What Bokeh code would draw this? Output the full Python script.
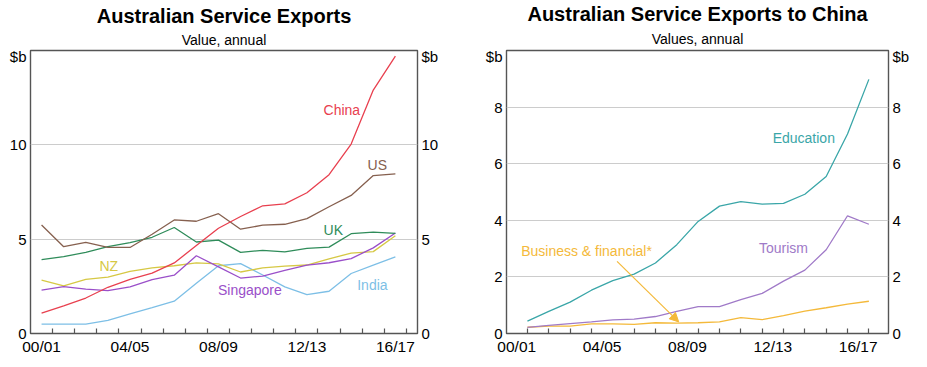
from bokeh.plotting import figure
from bokeh.layouts import row
from bokeh.models import FixedTicker, LinearAxis, Range1d, Label, Arrow, NormalHead, Title
from bokeh.embed import file_html
from bokeh.resources import INLINE

FONT = "Liberation Sans"

# ---------------- data ----------------
years = ["00/01", "01/02", "02/03", "03/04", "04/05", "05/06", "06/07", "07/08", "08/09",
         "09/10", "10/11", "11/12", "12/13", "13/14", "14/15", "15/16", "16/17"]
tick_years = ["00/01", "04/05", "08/09", "12/13", "16/17"]

# Left chart: Australian service exports by destination ($b)
china = [1.08, 1.46, 1.88, 2.45, 2.87, 3.20, 3.74, 4.66, 5.58, 6.20, 6.77, 6.87, 7.46, 8.42, 10.04, 12.90, 14.70]
us = [5.75, 4.60, 4.83, 4.57, 4.56, 5.26, 6.02, 5.95, 6.35, 5.53, 5.74, 5.79, 6.09, 6.72, 7.32, 8.37, 8.46]
uk = [3.92, 4.08, 4.30, 4.60, 4.82, 5.10, 5.62, 4.85, 4.95, 4.30, 4.41, 4.33, 4.51, 4.58, 5.29, 5.37, 5.31]
nz = [2.83, 2.52, 2.87, 2.99, 3.29, 3.48, 3.59, 3.74, 3.69, 3.26, 3.48, 3.57, 3.63, 3.96, 4.26, 4.34, 5.18]
singapore = [2.30, 2.48, 2.35, 2.27, 2.47, 2.86, 3.09, 4.12, 3.53, 2.94, 3.04, 3.35, 3.62, 3.75, 3.97, 4.54, 5.33]
india = [0.50, 0.50, 0.50, 0.70, 1.04, 1.37, 1.71, 2.66, 3.59, 3.70, 3.10, 2.47, 2.06, 2.24, 3.18, 3.62, 4.06]

# Right chart: Australian service exports to China ($b)
education = [0.44, 0.78, 1.11, 1.53, 1.87, 2.10, 2.49, 3.14, 3.96, 4.50, 4.66, 4.57, 4.60, 4.92, 5.55, 7.05, 8.98]
tourism = [0.22, 0.29, 0.35, 0.41, 0.48, 0.51, 0.60, 0.78, 0.95, 0.95, 1.20, 1.42, 1.85, 2.24, 2.96, 4.16, 3.86]
business = [0.22, 0.26, 0.26, 0.34, 0.34, 0.32, 0.38, 0.37, 0.38, 0.41, 0.56, 0.49, 0.63, 0.79, 0.91, 1.04, 1.14]

left_yticks = [0, 5, 10]
right_yticks = [0, 2, 4, 6, 8]

# ---------------- styling ----------------
C_CHINA = "#e8404f"
C_US = "#86604f"
C_UK = "#2f8c5a"
C_NZ = "#d6c844"
C_SING = "#9a4fc9"
C_INDIA = "#7dbfe6"
C_EDU = "#3aa6a8"
C_TOUR = "#a07ac8"
C_BUS = "#f4b93a"
FRAME = "#555555"
GRID = "#cccccc"
FIG_H = 357


def year_pos(offset):
    return [i + offset for i in range(len(years))]


def tick_pos():
    return [years.index(t) + 0.5 for t in tick_years]


def make_fig(title, subtitle, sub_standoff, width, xr, yr, left_border, right_border,
             yticks, unit_pos, grid_ticks):
    p = figure(width=width, height=FIG_H, output_backend="svg", toolbar_location=None,
               x_range=Range1d(*xr), y_range=Range1d(*yr),
               min_border_left=left_border, min_border_right=right_border,
               min_border_top=10, min_border_bottom=20,
               title=title)
    p.title.text_font = FONT
    p.title.text_font_size = "20px"
    p.title.text_font_style = "bold"
    p.title.align = "center"
    p.title.standoff = 0
    p.title.text_color = "#000000"
    p.add_layout(Title(text=subtitle, align="center", text_font=FONT,
                       text_font_size="14px", text_font_style="normal",
                       text_color="#000000", standoff=sub_standoff), "above")
    p.outline_line_color = FRAME
    p.outline_line_width = 1.4
    p.background_fill_color = "white"
    p.border_fill_color = "white"
    p.xgrid.grid_line_color = None
    p.ygrid.ticker = FixedTicker(ticks=grid_ticks)
    p.ygrid.grid_line_color = GRID
    p.ygrid.grid_line_width = 1

    # x axis
    xa = p.xaxis[0]
    tp = tick_pos()
    xa.ticker = FixedTicker(ticks=tp, minor_ticks=[i + 1 for i in range(len(years))])
    xa.major_label_overrides = {t: lab for t, lab in zip(tp, tick_years)}
    xa.axis_line_color = None
    xa.major_tick_line_color = None
    xa.major_tick_in = 0
    xa.major_tick_out = 0
    xa.minor_tick_line_color = FRAME
    xa.minor_tick_line_width = 1.2
    xa.minor_tick_in = 5
    xa.minor_tick_out = 0
    xa.major_label_text_font = FONT
    xa.major_label_text_font_size = "15.5px"
    xa.major_label_text_color = "#000000"
    xa.major_label_standoff = 4
    xa.axis_label_standoff = 0

    # y axes, both sides
    ra = LinearAxis()
    p.add_layout(ra, "right")
    overrides = {t: str(t) for t in yticks}
    overrides[unit_pos] = "$b"
    for ax in (p.yaxis[0], ra):
        ax.ticker = FixedTicker(ticks=yticks + [unit_pos], minor_ticks=[])
        ax.major_label_overrides = overrides
        ax.axis_line_color = None
        ax.major_tick_line_color = None
        ax.major_tick_in = 0
        ax.major_tick_out = 0
        ax.minor_tick_line_color = None
        ax.minor_tick_out = 0
        ax.major_label_text_font = FONT
        ax.major_label_text_font_size = "15px"
        ax.major_label_text_color = "#000000"
        ax.major_label_standoff = 4
        ax.axis_label_standoff = 0
    return p


def add_label(p, x, y, text, color):
    p.add_layout(Label(x=x, y=y, text=text, text_color=color, text_font=FONT,
                       text_font_size="14px", text_align="center",
                       text_baseline="middle"))


# ---------------- left chart ----------------
p1 = make_fig("Australian Service Exports", "Value, annual", 6, 467, (0.0, 17.5), (0, 15),
              30, 50, left_yticks, 14.7, [5, 10])
xl = year_pos(0.5)
for series, color in [(india, C_INDIA), (nz, C_NZ), (singapore, C_SING), (uk, C_UK),
                      (us, C_US), (china, C_CHINA)]:
    p1.line(xl, series, line_color=color, line_width=1.3)

add_label(p1, 14.08, 11.87, "China", C_CHINA)
add_label(p1, 15.68, 8.91, "US", C_US)
add_label(p1, 13.69, 5.47, "UK", C_UK)
add_label(p1, 3.54, 3.59, "NZ", C_NZ)
add_label(p1, 9.92, 2.28, "Singapore", C_SING)
add_label(p1, 15.46, 2.58, "India", C_INDIA)

# ---------------- right chart ----------------
p2 = make_fig("Australian Service Exports to China", "Values, annual", 8, 445, (0.02, 17.92), (0, 10),
              39, 20, right_yticks, 9.8, [2, 4, 6, 8])
xr = year_pos(1.0)
for series, color in [(business, C_BUS), (tourism, C_TOUR), (education, C_EDU)]:
    p2.line(xr, series, line_color=color, line_width=1.3)

add_label(p2, 13.95, 6.91, "Education", C_EDU)
add_label(p2, 13.0, 3.02, "Tourism", C_TOUR)
add_label(p2, 3.77, 2.9, "Business & financial*", C_BUS)
p2.add_layout(Arrow(end=NormalHead(size=9, fill_color=C_BUS, line_color=C_BUS),
                    x_start=5.2, y_start=2.55, x_end=8.09, y_end=0.41,
                    line_color=C_BUS, line_width=1.2))

layout = row(p1, p2)
open("out.html", "w").write(file_html(layout, INLINE))
